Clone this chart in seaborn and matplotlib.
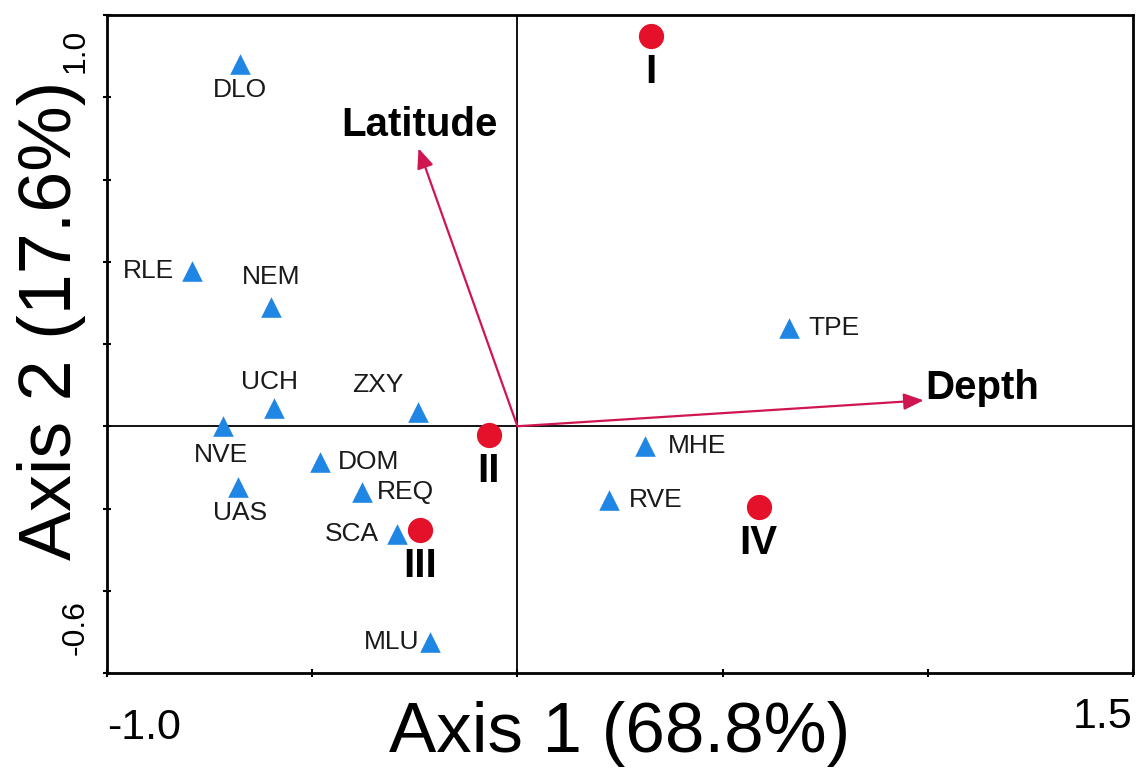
import matplotlib
matplotlib.use("Agg")
import matplotlib.pyplot as plt
from matplotlib.transforms import ScaledTranslation
import seaborn as sns
import pandas as pd

# ---------------- data ----------------
species = ["DLO", "RLE", "NEM", "UCH", "ZXY", "NVE", "DOM", "UAS", "REQ",
           "SCA", "MLU", "TPE", "MHE", "RVE"]
species_x = [-0.676, -0.793, -0.601, -0.594, -0.241, -0.718, -0.482, -0.680,
             -0.379, -0.293, -0.212, 0.661, 0.312, 0.224]
species_y = [0.882, 0.377, 0.291, 0.044, 0.035, 0.000, -0.087, -0.147,
             -0.160, -0.262, -0.524, 0.238, -0.049, -0.180]

groups = ["I", "II", "III", "IV"]
group_x = [0.326, -0.070, -0.237, 0.588]
group_y = [0.950, -0.022, -0.253, -0.197]

variables = ["Latitude", "Depth"]
var_x = [-0.241, 0.990]
var_y = [0.676, 0.063]

x_ticks = [-1.0, -0.5, 0.0, 0.5, 1.0, 1.5]
x_tick_labels = ["-1.0", "", "", "", "", "1.5"]
y_ticks = [-0.6, -0.4, -0.2, 0.0, 0.2, 0.4, 0.6, 0.8, 1.0]
y_tick_labels = ["-0.6", "", "", "", "", "", "", "", "1.0"]

x_label = "Axis 1 (68.8%)"
y_label = "Axis 2 (17.6%)"

# ---------------- layout (label offsets in points) ----------------
species_offsets = {
    "DLO": (0, -19, "center"), "RLE": (-13, 0, "right"), "NEM": (0, 21, "center"),
    "UCH": (-3, 19, "center"), "ZXY": (-29, 19, "center"), "NVE": (-1, -21, "center"),
    "DOM": (13, 0, "left"), "UAS": (1, -19, "center"), "REQ": (11, 0, "left"),
    "SCA": (-13, 0, "right"), "MLU": (-8, 0, "right"), "TPE": (14, 0, "left"),
    "MHE": (16, 0, "left"), "RVE": (14, 0, "left"),
}
var_offsets = {"Latitude": (1, 17, "center"), "Depth": (1, 9, "left")}

sns.set_style("white")
plt.rcParams["font.family"] = ["Liberation Sans", "DejaVu Sans"]
plt.rcParams["text.color"] = "black"
plt.rcParams["axes.labelcolor"] = "black"
plt.rcParams["xtick.color"] = "black"
plt.rcParams["ytick.color"] = "black"

BLUE = "#1F86E3"
RED = "#E5112A"
ARROW = "#D01650"

fig = plt.figure(figsize=(11.42, 7.68), dpi=100)
ax = fig.add_axes([107 / 1142, 95 / 768, 1026 / 1142, 658 / 768])

ax.axhline(0, color="black", lw=1.3, zorder=1)
ax.axvline(0, color="black", lw=1.3, zorder=1)

# arrows for environmental variables
for name, vx, vy in zip(variables, var_x, var_y):
    ax.annotate("", xy=(vx, vy), xytext=(0, 0),
                arrowprops=dict(arrowstyle="-|>,head_length=0.6,head_width=0.25",
                                color=ARROW, lw=1.6, mutation_scale=20,
                                shrinkA=0, shrinkB=0), zorder=2)
    dx, dy, ha = var_offsets[name]
    ax.annotate(name, xy=(vx, vy), xytext=(dx, dy), textcoords="offset points",
                ha=ha, va="center", fontsize=29, fontweight="bold", color="black")

sp_df = pd.DataFrame({"name": species, "x": species_x, "y": species_y})
gr_df = pd.DataFrame({"name": groups, "x": group_x, "y": group_y})

sns.scatterplot(data=sp_df, x="x", y="y", marker="^", s=220, color=BLUE,
                linewidth=0, ax=ax, zorder=3)
sns.scatterplot(data=gr_df, x="x", y="y", marker="o", s=330, color=RED,
                linewidth=0, ax=ax, zorder=4)

for name, x, y in zip(species, species_x, species_y):
    dx, dy, ha = species_offsets[name]
    ax.annotate(name, xy=(x, y), xytext=(dx, dy), textcoords="offset points",
                ha=ha, va="center", fontsize=19, color="#1a1a1a")

for name, x, y in zip(groups, group_x, group_y):
    ax.annotate(name, xy=(x, y), xytext=(0, -26), textcoords="offset points",
                ha="center", va="center", fontsize=29, fontweight="bold",
                color="black")

ax.set_xlim(-1.0, 1.5)
ax.set_ylim(-0.6, 1.0)

ax.set_xticks(x_ticks)
ax.set_xticklabels(x_tick_labels, fontsize=31)
ax.set_yticks(y_ticks)
ax.set_yticklabels(y_tick_labels, fontsize=23, rotation=90)
ax.tick_params(axis="both", direction="inout", length=6, width=1.5,
               color="black", labelcolor="black", bottom=True, left=True)
ax.tick_params(axis="x", pad=14)
ax.tick_params(axis="y", pad=9)

xl = ax.get_xticklabels()
xl[0].set_ha("left")
xl[0].set_transform(xl[0].get_transform()
                    + ScaledTranslation(0, -8 / 72, fig.dpi_scale_trans))
xl[-1].set_ha("right")
yl = ax.get_yticklabels()
yl[0].set_va("center")
yl[0].set_transform(yl[0].get_transform()
                    + ScaledTranslation(0, 33 / 72, fig.dpi_scale_trans))
yl[-1].set_va("center")
yl[-1].set_transform(yl[-1].get_transform()
                     + ScaledTranslation(0, -26 / 72, fig.dpi_scale_trans))

ax.set_xlabel(x_label, fontsize=51, color="black")
ax.set_ylabel(y_label, fontsize=53, color="black")
ax.xaxis.set_label_coords(0.5, -0.042)
ax.yaxis.set_label_coords(-0.02, 0.536)

for sp in ax.spines.values():
    sp.set_visible(True)
    sp.set_color("black")
    sp.set_linewidth(2.0)

fig.savefig("out.png", dpi=100)
